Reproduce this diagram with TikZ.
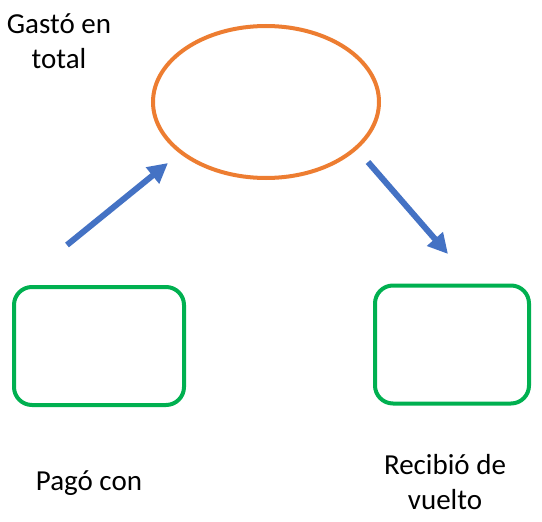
\documentclass[tikz,border=0pt]{standalone}
\usepackage{fontspec}
\setmainfont{Carlito}
\usetikzlibrary{arrows.meta,shapes.geometric}
\definecolor{ordr}{HTML}{ED7D31}
\definecolor{grn}{HTML}{00B050}
\definecolor{blu}{HTML}{4472C4}
\tikzset{
  lbl/.style={font=\fontsize{29}{35}\selectfont, align=center, inner sep=0pt},
  boxg/.style={draw=grn, line width=4pt, rounded corners=18pt, minimum width=170pt, minimum height=118pt, inner sep=0pt},
  ovl/.style={draw=ordr, line width=4pt, ellipse, minimum width=226pt, minimum height=152pt, inner sep=0pt},
  arr/.style={draw=blu, line width=6pt, -{Triangle[length=20pt,width=20pt]}}
}
\begin{document}
\begin{tikzpicture}[x=1pt,y=-1pt]
\useasboundingbox (0,0) rectangle (542,522);
\node[ovl] (e) at (266,102) {};
\node[boxg] (l) at (99,346) {};
\node[boxg, minimum width=154pt] (r) at (452,344.5) {};
\coordinate (a1s) at (67,245);
\coordinate (a1e) at (168,163);
\coordinate (a2s) at (368,162);
\coordinate (a2e) at (448,254);
\draw[arr] (a1s) -- (a1e);
\draw[arr] (a2s) -- (a2e);
\node[lbl] (t1) at (59,41) {Gastó en\\total};
\node[lbl, anchor=base] (t2) at (89,490) {Pagó con};
\node[lbl] (t3) at (445,482) {Recibió de\\vuelto};
\end{tikzpicture}
\end{document}
